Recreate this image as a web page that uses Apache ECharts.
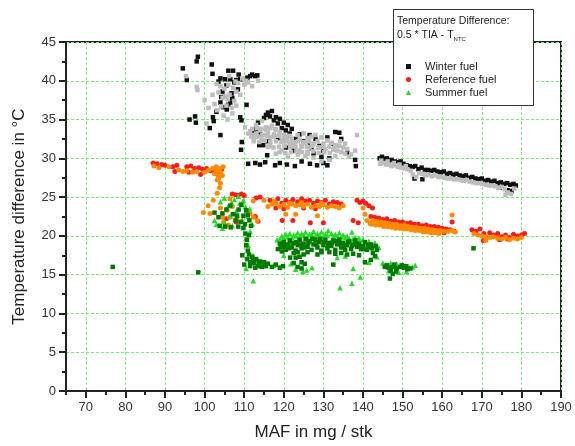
<!DOCTYPE html>
<html>
<head>
<meta charset="utf-8">
<script src="https://cdn.jsdelivr.net/npm/echarts@6/dist/echarts.min.js"></script>
<style>
html, body { margin: 0; padding: 0; background: #fff; }
#chart { width: 575px; height: 446px; }
</style>
</head>
<body>
<div id="chart"></div>
<script>
// values (x = MAF in mg/stk, y = temperature difference in °C)
var winterBlack = [
	[94.5,41.6],[95.5,40.1],[96.2,35],[97.6,35.4],[98,42.5],[98.3,43.1],[97.8,34.6],[101.8,42.1],[102,40.9],[101.3,33.9],
	[102.1,35.3],[102.3,34.8],[103.5,39.9],[104,40.3],[104.5,38.6],[104,37.2],[104.7,36.6],[104,33],[105.2,40.2],[105.5,39.4],
	[106,41.3],[106,36.9],[106.5,40.2],[106.8,38.4],[107,37.8],[107.2,41.3],[107.5,39.8],[108,40.1],[108.4,38.9],[109,40.2],
	[109,35.3],[109.3,34.9],[109.4,32.1],[109.2,31.1],[110.6,36.9],[111.5,40.6],[112,40.8],[112.8,40.6],[113.3,40.7],[103,36],
	[105.6,36.3],[104.2,37.9],[106.5,37.2],[108.6,40.8],[110.8,40.4],
	[112.5,33.4],[113,33.8],[113.5,34.6],[114,33.1],[115,35.2],[115.5,35.6],[116,35.9],[116.5,35.4],[117,36.1],[117.5,34.9],
	[118,35.3],[118.5,34.5],[119,35.1],[119.5,33.9],[120,34.6],[120.5,33.6],[121,34.3],[121.5,33.2],[122,33.8],[123,32.5],
	[124,33.1],[125,32.2],[126,31.8],[126.5,33],[127,31.3],[128,32.5],[129,31.6],[130,31],[131,32.7],[132,31.9],
	[133,33.4],[134,33.3],[134.5,32.5],[136,30.7],[138,29.8],[138.2,29],[131.5,30],[120.5,31.4],[122.5,31],[118.5,32.6],
	[116,32.2],[113.8,31.7],[114.8,31.7],[115.8,30.4],[124.5,29.6],[127.5,30.6],[129.5,30.2],
	[111,29.3],[112.8,29.4],[114,29.2],[115.3,29.5],[117.8,29.1],[119,29.4],[120.8,29.2],[122.8,29],[126.6,29.3],[128.4,29.1],
	[130,29.4],[131,29.1],
	[144.2,30],[144.8,30.2],[145.4,29.9],[146,30],[146.6,29.7],[147.2,29.8],[148,29.6],[148.8,29.5],[149.5,29.6],[150.2,29.3],
	[151,29.1],[151.8,29],[152.5,28.9],[153.2,29],[154,28.6],[154.8,28.8],[155.6,28.5],[156.4,28.5],[157.2,28.4],[158,28.5],
	[158.8,28.3],[159.6,28.2],[160.4,28.3],[161.2,28],[162,28.1],[162.8,27.9],[163.6,28],[164.4,27.8],[165.2,27.7],[166,27.8],
	[166.8,27.5],[167.6,27.6],[168.4,27.4],[169.2,27.3],[170,27.4],[170.8,27.1],[171.6,27.2],[172.4,27],[173.2,27.1],[174,26.8],
	[174.8,26.9],[175.6,26.7],[176.4,26.8],[177.2,26.6],[178,26.7],[178.6,26.5],[176.5,25.9],[177.5,25.8],[153,27.4],[155,27.3],
	[174.5,26.2]
];
var winterGray = [
	[95.3,40.6],[98,39.2],[98.2,38.8],[100,37.5],[101,36.5],[102,38.2],[102.5,37],[103,39.6],[103.5,38.5],[104,39.3],
	[104.5,37.8],[105,39],[105.2,38],[105.5,36.8],[106,39.5],[106.3,38.2],[106.8,36.5],[107.2,39.1],[107.5,37.4],[108,38.6],
	[108.5,39.7],[109,38.2],[109.5,40.3],[110,39.5],[110.5,40],[111,39.8],[112,39.3],[113.5,40],[100.5,34.5],[104.8,35.5],
	[105.8,35],[107,35.8],[110.2,34],[111,33.2],[108,36.8],[103.2,36.2],[104.2,36.7],[105.8,37.6],[107.8,39.9],[106.2,40.6],
	[111.5,33.5],[112,33],[112.5,32.5],[113,33.2],[113.5,32.8],[114,33.6],[114.5,32.4],[115,33],[115.5,34],[116,33.4],
	[116.5,32.7],[117,34.2],[117.5,33.1],[118,33.7],[118.5,32.9],[119,33.4],[119.5,32.4],[120,33],[120.5,32.3],[121,32.8],
	[121.5,31.9],[122,32.5],[122.5,31.6],[123,32.1],[123.5,33],[124,32.4],[124.5,31.5],[125,33.2],[125.5,32],[126,32.6],
	[126.5,31.4],[127,32.8],[127.5,31.9],[128,33],[128.5,32.2],[129,31.4],[129.5,32.7],[130,31.9],[130.5,31.2],[131,32.3],
	[131.5,31.5],[132,32],[132.5,31.1],[133,31.7],[133.5,31],[134,31.6],[134.5,30.8],[135,31.4],[135.5,30.6],[136,31.2],
	[137,30.5],[138,31],[138.5,33],[121,30.2],[123.5,30.5],[125.5,30.3],[127.5,30.1],[129.5,29.6],[131.5,29.8],[133,30.3],
	[118,30.6],[119.5,31],[116.5,31.6],[113,34.3],[114.5,34.8],[124,31],[126,30.8],
	[112,33.8],[113.2,33.9],[114.3,33.8],[115.4,33.7],[116.6,33.9],[117.8,33.8],[111.8,32.8],[113.2,32.9],[114.6,33],[116,32.9],
	[117.4,32.8],[118.8,33],[120.2,32.8],[121.6,32.9],[112.4,32.2],[113.8,32.1],[115.2,32.3],[116.6,32.1],[118,32.2],[119.4,32.1],
	[120.8,32.2],[122.2,32],[123.6,32.2],[125,32.1],[126.4,32.2],[116,31.5],[117.4,31.4],[118.8,31.5],[120.2,31.6],[121.6,31.4],
	[123,31.5],[124.4,31.6],[125.8,31.5],[127.2,31.6],[128.6,31.4],[130,31.5],[119,30.8],[120.4,30.7],[121.8,30.8],[123.2,30.9],
	[124.6,30.8],[126,30.6],[127.4,30.9],[128.8,30.7],[130.2,30.8],[131.6,30.7],[132.8,31.3],[134.2,32.2],[135.5,31.9],[136.5,30.2],
	[144.3,29.3],[145,29.4],[145.8,29.2],[146.5,29.2],[147.2,29],[148,29.1],[148.8,28.9],[149.6,28.8],[150.4,28.7],[151.2,28.6],
	[152,28.4],[152.6,27.9],[153.4,27.6],[154.2,28.1],[155,28],[155.8,27.8],[156.6,27.9],[157.4,27.7],[158.2,27.8],[159,27.6],
	[159.8,27.6],[160.6,27.5],[161.4,27.4],[162.2,27.4],[163,27.3],[163.8,27.3],[164.6,27.2],[165.4,27.1],[166.2,27.2],[167,27],
	[167.8,26.9],[168.6,26.8],[169.4,26.8],[170.2,26.7],[171,26.6],[171.8,26.5],[172.6,26.5],[173.4,26.4],[174.2,26.2],[175,26.3],
	[175.8,26],[176.6,25.6],[177.4,25.4],[176,25.3],[178.2,26.1],[144.6,29.7],[146.2,29.6],[147.8,29.4],[149.2,29.2],[150.8,29]
];
var refRed = [
	[87,29.4],[88,29.3],[89.2,29.2],[90,29.1],[92,28.9],[93,29.1],[95.5,28.9],[96.5,29],[97.5,28.7],[98.5,28.8],
	[99.5,28.6],[100.5,28.7],[101.5,28.4],[102.5,28.5],[103.5,28.3],[104.3,28.6],[92.5,28.3],[96,28.2],[99,27.9],
	[107,25.4],[107.8,25.3],[108.5,25.2],[109.3,25.4],[110,25.2],[113,24.9],[114,25],[116.5,24.6],[117.3,24.3],[118.5,24.8],
	[119.5,24.2],[120.5,24.6],[121.5,24.3],[122.3,24.7],[123.5,24.4],[124.5,24.8],[125.5,24.5],[126.5,24.6],[127.5,24.2],[128.5,24.5],
	[129.5,24.3],[130.5,24.6],[131.5,24.1],[132.5,24.4],[133.5,24.3],[134.5,24.1],[118,23.6],[120,23.5],[125,23.6],[128,23.5],
	[138.5,24.6],[139.2,24.3],[140,24.5],[140.7,24.2],[141.5,23.9],[142.4,23.6],
	[119.6,22],[122.3,22],[126.7,21.7],[130,21.7],[137.5,22],[138.8,21.7],[105.5,22.2],[108,21.8],[112.8,22.5],[113.5,21.9],
	[142,22.5],[143,22.4],[144,22.3],[145,22.1],[146,22.2],[147,21.9],[148,22],[149,21.8],[150,21.8],[151,21.6],
	[152,21.7],[153,21.5],[154,21.5],[155,21.3],[156,21.4],[157,21.2],[158,21.2],[159,21.1],[160,21],[161,20.9],
	[162,20.8],[163,20.6],[162.5,21.8],[145.5,21.3],[150.5,21],[155.5,20.8],[160.5,20.4],
	[167.5,20.8],[168.5,20.6],[169.5,20.9],[170.4,19.4],[170.5,20.3],[172,20.4],[173,20.1],[174,20.3],[175,19.9],[176,20.1],
	[177,19.8],[178,20.2],[179,20],[180,20.1],[180.8,20.3],[174.5,19.5],[176.5,19.6]
];
var refOrange = [
	[87.2,29],[88.5,28.8],[91,28.9],[93.5,28.5],[94.5,28.3],[95.5,28.4],[97,28.2],[98,28.3],[100,28.2],[101,28.5],
	[102,28.7],[102.5,28],[103,28.4],[103.5,27.7],[104,28.2],[104.5,27.8],[104.7,28.9],[103.2,27.2],[104,26.8],[103.2,25.5],
	[102.2,24.6],[100.9,23.9],[99.7,23],[103.8,26.2],[103.6,27.4],[103.9,28.7],[102.9,28.9],
	[106.4,24.8],[112.3,24.5],[115,24.6],[116,23.8],[117,24.1],[118,24.2],[119,23.8],[120,24],[121,23.7],[122,24.1],
	[123,23.9],[124,24],[125,23.8],[126,24.1],[127,23.7],[128,23.9],[129,23.8],[130,24],[131,23.7],[132,23.9],
	[133,23.8],[134,23.6],[135,23.9],[120.5,22.8],[123,22.8],[128.5,22.6],[117.5,24.5],[121.5,24.2],[124.5,24.3],[129.5,24.2],
	[101.4,22.9],[104.5,22.4],[105.7,23.3],[106.4,22.4],[108.2,22.3],[113.3,22],[112.3,22.4],[104,23.6],[107,23.8],[110.8,23.2],
	[111.5,22.9],[106,21.4],[104.8,21.8],
	[140,23.6],[140.5,22.8],[141,22],[141.8,21.6],[142.5,22],[143.5,21.9],[144.5,21.8],[145.5,21.7],[146.5,21.6],[147.5,21.5],
	[148.5,21.5],[149.5,21.3],[150.5,21.4],[151.5,21.2],[152.5,21.1],[153.5,21.1],[154.5,21],[155.5,21],[156.5,20.9],[157.5,20.8],
	[158.5,20.7],[159.5,20.7],[160.5,20.6],[161.5,20.6],[162.5,20.7],[163.3,20.5],[162.5,22.7],
	[142.2,21.5],[143.2,21.4],[144.2,21.4],[145.2,21.2],[146.2,21.2],[147.2,21.1],[148.2,21],[149.2,21],[150.2,20.9],[151.2,20.9],
	[152.2,20.8],[153.2,20.7],[154.2,20.7],[155.2,20.5],[156.2,20.5],[157.2,20.4],[158.2,20.4],[159.2,20.3],
	[168,20.3],[169,20.1],[170,20],[171,19.9],[172,19.8],[173,19.9],[174,19.7],[175,19.6],[176,19.8],[177,19.5],
	[178,19.7],[179,19.6],[180,19.8],[171,19.4]
];
var summerLight = [
	[104,24.4],[105,24.9],[106,23.9],[107.5,24.7],[108.5,25.1],[109.8,24.6],[110.3,23.8],[108,23.2],[106.5,22.6],[105,21.8],
	[103,21.5],[104.5,21],[107,21.3],[109.5,22.1],[111,22.5],[112,21.5],[111.5,20.6],[110.5,19.7],[111,18.8],[112.2,17.5],
	[113.5,16.8],[114.5,16.2],[116,16.5],[117.5,16.2],[110.5,15.8],[112.3,14.2],[102.5,22],[106.8,24.3],[108.9,24.2],[111.4,23.5],
	[118.3,19.5],[119.5,20],[120.5,20.2],[121.5,20.3],[122.5,20.1],[123.5,20.4],[124.5,20.3],[125.5,20.5],[126.5,20.2],[127.5,20.6],
	[128.5,20.3],[129.5,20.5],[130.5,20.2],[131.2,20.7],[132,20.3],[133,20.2],[134,20.4],[135,20.1],[136,20],[137.2,20.5],
	[138,19.8],[139,19.7],[140,19.5],[141.5,19.3],[143,19.1],[144,18.5],[143.5,17.3],[141.5,16.6],[133.5,17.2],[135.5,17.4],
	[121.8,16.4],[123,15.7],[124.8,15.4],[125.8,15.6],[127.1,15.9],[134.2,13.3],[137.2,13.9],[139.3,14.7],[137.5,15.8],[120,17.5],
	[119,19.6],[120,19.8],[121,19.9],[122,19.8],[123,20],[124,19.9],[125,20.1],[126,19.9],[127,20.2],[128,20],
	[129,20.1],[130,19.9],[131,20.1],[132.5,19.9],[133.5,20],[134.5,19.9],[135.5,19.8],[136.5,19.7],[137.5,19.6],[138.5,19.5],
	[145,16.5],[146,16.2],[147,16.5],[148.5,16.4],[150,16.3],[151.5,16.1],[152.5,16],[153.2,16.2],[146.5,15.5],[149,15.3],
	[151,15.4]
];
var summerDark = [
	[102.5,23],[103.5,22.4],[104.5,22.9],[105.5,23.4],[106.5,23.9],[107.2,22.8],[107.8,22],[108.6,23.4],[109.3,24],[109.8,22.6],
	[110.5,23.3],[111.3,22],[111.7,21.3],[110.2,21.5],[103.8,21.3],[105.2,21.2],[106.6,21.1],[108.5,21.2],[109.8,21],[110.3,20.3],
	[110.7,19.5],[110.5,18.8],[110.9,18.1],[111.2,17.6],[110.8,17],[111.5,16.6],[112,17.3],[112.5,16.5],[113,17],[113.5,16.1],
	[114,16.7],[114.5,16],[115,16.6],[115.5,16.1],[116,16.4],[117,16],[118,16.3],[119,15.9],[119.8,16.1],[111.5,16.1],
	[112.8,15.9],[109.5,17.5],[110,16.3],[108.2,22.6],[110.9,22.7],[109.1,21.8],[111.2,20.1],[112.2,16.9],[113.8,16.5],[115.2,16.3],
	[118.5,18.3],[119,19],[119.5,18.6],[120,19.2],[120.5,18.2],[121,18.9],[121.5,19.4],[122,18.5],[122.5,19.1],[123,18.1],
	[123.5,18.8],[124,19.5],[124.5,18.4],[125,19],[125.5,19.6],[126,18.6],[126.5,19.3],[127,18.2],[127.5,18.9],[128,19.5],
	[128.5,18.5],[129,19.2],[129.5,18.1],[130,18.8],[130.5,19.5],[131,18.4],[131.5,19.1],[132,18.7],[132.5,19.4],[133,18.2],
	[133.5,18.9],[134,19.5],[134.5,18.5],[135,19.1],[135.5,18.2],[136,18.8],[136.5,19.3],[137,18.3],[137.5,18.9],[138,19.4],
	[138.5,18.6],[139,19],[139.5,18.3],[140,18.7],[140.5,19.2],[141,18.2],[141.5,18.6],[142,18.9],[142.5,17.8],[143,17.4],
	[143.5,18.2],[142,16.9],[140.5,16.6],[139,17.5],[137.5,17.7],[136,17.6],[134.5,17.8],[133,17.7],[132.5,16.3],[131.5,17.9],
	[128.5,17.6],[126,17.9],[121.6,17.2],[122.5,16.5],[123.5,16],[124.5,15.8],[125.3,16.4],[122.5,17.8],[119.5,18],[124,17.3],
	[119.2,18.6],[120.2,18.7],[121.2,18.4],[122.2,19],[123.2,19.2],[124.2,18.9],[125.2,18.5],[126.2,19.1],[127.2,19.6],[128.2,18.9],
	[129.2,19.6],[130.2,19.2],[131.2,18.9],[132.2,19.1],[133.2,19.3],[134.2,19],[135.2,18.7],[136.2,19.2],[137.2,18.7],[138.2,18.9],
	[139.2,18.6],[140.2,18.3],[141.2,18.8],[142.2,18.4],[143.2,18.7],[123.5,17.9],[124.5,16.6],[123,17.2],[125,17.6],[129.5,17.9],
	[145.5,16],[146.5,15.9],[147.5,16],[148.5,15.8],[149.4,16],[150.3,15.9],[151.2,15.7],[152,15.8],[147,15.5],[148.3,15.4],
	[146.8,14.5],[147.5,15.1],[146,16.2],[147.9,16.3],[149.8,16.2],[150.8,16.1],
	[76.8,16],[98.4,15.3],[167.9,18.4]
];
var seriesNames = ['Winter fuel', 'Reference fuel', 'Summer fuel'];
var xRange = [65, 190];
var yRange = [0, 45];

var font = 'Liberation Sans, Arial, sans-serif';

function scatter(name, data, symbol, size, color) {
	return {
		name: name,
		type: 'scatter',
		xAxisIndex: 0,
		yAxisIndex: 0,
		symbol: symbol,
		symbolSize: size,
		data: data,
		itemStyle: { color: color, opacity: 1 },
		emphasis: { disabled: true },
		animation: false
	};
}

var option = {
	animation: false,
	grid: {
		left: 66,
		right: 14,
		top: 42,
		bottom: 55,
		show: true,
		borderColor: '#222',
		borderWidth: 2,
		backgroundColor: '#fff'
	},
	xAxis: [{
		type: 'value',
		min: xRange[0],
		max: xRange[1],
		splitNumber: 12,
		name: 'MAF in mg / stk',
		nameLocation: 'middle',
		nameGap: 33,
		nameTextStyle: { fontFamily: font, fontSize: 17, color: '#222' },
		axisLine: { show: true, lineStyle: { color: '#222', width: 2 } },
		axisTick: { show: true, length: 7, lineStyle: { color: '#222', width: 2 } },
		axisLabel: { showMinLabel: false, fontFamily: font, fontSize: 13, color: '#333', margin: 10 },
		splitLine: { show: true, lineStyle: { color: '#77ee77', type: [3, 2], width: 1 } }
	}, {
		// minor ticks every 5
		type: 'value',
		position: 'bottom',
		min: xRange[0],
		max: xRange[1],
		interval: 5,
		axisLine: { show: false },
		axisTick: { show: true, length: 4, lineStyle: { color: '#222', width: 2 } },
		axisLabel: { show: false },
		splitLine: { show: false }
	}],
	yAxis: {
		type: 'value',
		min: yRange[0],
		max: yRange[1],
		interval: 5,
		name: 'Temperature difference in °C',
		nameLocation: 'middle',
		nameGap: 38,
		nameTextStyle: { fontFamily: font, fontSize: 17, color: '#222' },
		axisLine: { show: true, lineStyle: { color: '#222', width: 2 } },
		axisTick: { show: true, length: 7, lineStyle: { color: '#222', width: 2 } },
		minorTick: { show: true, splitNumber: 2, length: 4, lineStyle: { color: '#222', width: 2 } },
		axisLabel: { fontFamily: font, fontSize: 13, color: '#333', margin: 10 },
		splitLine: { show: true, lineStyle: { color: '#77ee77', type: [3, 2], width: 1 } }
	},
	legend: {
		data: seriesNames,
		orient: 'vertical',
		left: 401,
		top: 56,
		itemWidth: 5,
		itemHeight: 5,
		itemGap: 2,
		textStyle: { fontFamily: font, fontSize: 11, color: '#222', padding: [0, 0, 0, 9] },
		z: 120
	},
	graphic: [{
		type: 'rect',
		z: 100,
		shape: { x: 393.5, y: 9.5, width: 140, height: 96 },
		style: { fill: '#fff', stroke: '#333', lineWidth: 1 }
	}, {
		type: 'text',
		z: 101,
		left: 397,
		top: 16,
		style: { text: 'Temperature Difference:', font: '10.5px ' + font, fill: '#222' }
	}, {
		type: 'text',
		z: 101,
		left: 397,
		top: 30,
		style: {
			text: '0.5 * TIA - T{sub|NTC}',
			font: '10.5px ' + font,
			fill: '#222',
			rich: { sub: { fontSize: 6, fontFamily: font, fill: '#222', padding: [8, 0, 0, 0] } }
		}
	}],
	series: [
		scatter('Winter fuel', winterBlack, 'rect', 4.5, '#111'),
		scatter('Winter fuel (2)', winterGray, 'rect', 4.5, '#bdbdbd'),
		scatter('Reference fuel', refRed, 'circle', 5, '#ff1a1a'),
		scatter('Reference fuel (2)', refOrange, 'circle', 5, '#ff8a00'),
		scatter('Summer fuel', summerLight, 'triangle', 5.5, '#22dd22'),
		scatter('Summer fuel (2)', summerDark, 'rect', 4.5, '#007a00')
	]
};

var chart = echarts.init(document.getElementById('chart'));
chart.setOption(option, true);
</script>
</body>
</html>
